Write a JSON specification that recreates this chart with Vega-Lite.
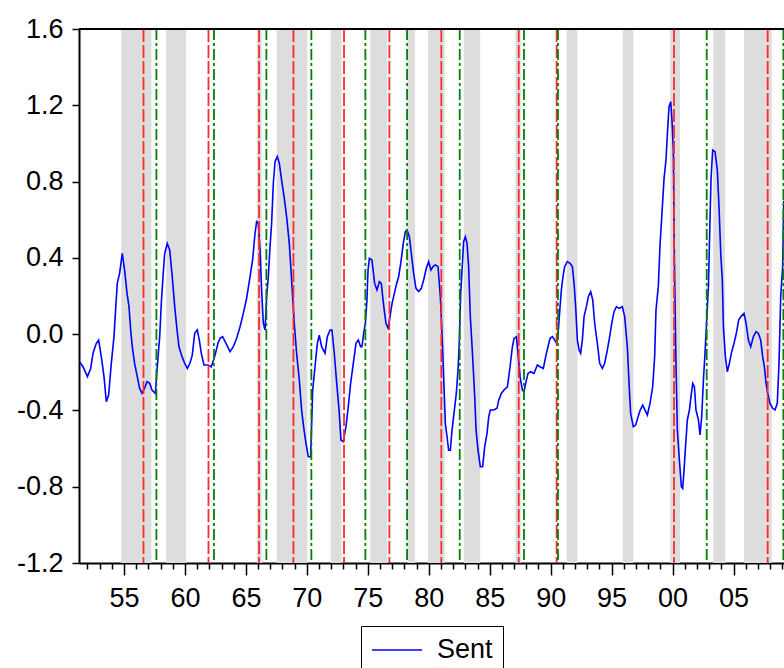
{
  "$schema": "https://vega.github.io/schema/vega-lite/v6.json",
  "autosize": {"type": "none"},
  "width": 705,
  "height": 534,
  "padding": {"left": 79, "top": 29, "right": 0, "bottom": 105},
  "background": "white",
  "config": {
    "view": {"stroke": null},
    "axis": {
      "title": null, "grid": false, "tickColor": "black", "tickWidth": 1.5,
      "domainColor": "black", "domainWidth": 2,
      "labelFont": "Liberation Sans", "labelFontSize": 27, "labelColor": "black",
      "labelOverlap": false, "labelFlush": false, "labelBound": false
    }
  },
  "datasets": {
    "bands": [
      {"t": 1954.77, "e": 1957.25}, {"t": 1958.46, "e": 1960.1}, {"t": 1965.9, "e": 1966.3},
      {"t": 1967.52, "e": 1970.03}, {"t": 1971.96, "e": 1972.84}, {"t": 1975.19, "e": 1976.6},
      {"t": 1978.25, "e": 1978.88}, {"t": 1979.93, "e": 1981.3}, {"t": 1982.87, "e": 1984.22},
      {"t": 1987.12, "e": 1987.55}, {"t": 1991.31, "e": 1992.19}, {"t": 1995.91, "e": 1996.78},
      {"t": 1999.8, "e": 2000.61}, {"t": 2003.33, "e": 2004.31}, {"t": 2005.85, "e": 2008.13}
    ],
    "peaks": [
      {"t": 1956.6}, {"t": 1961.93}, {"t": 1966.08}, {"t": 1968.9}, {"t": 1973.05}, {"t": 1976.77},
      {"t": 1981.03}, {"t": 1987.38}, {"t": 1990.49}, {"t": 2000.12}, {"t": 2007.8}
    ],
    "troughs": [
      {"t": 1957.66}, {"t": 1962.38}, {"t": 1966.68}, {"t": 1970.37}, {"t": 1974.8}, {"t": 1978.22},
      {"t": 1982.54}, {"t": 1987.81}, {"t": 1990.6}, {"t": 2002.8}, {"t": 2009.09}
    ],
    "sent": [
      {"t":1951.36,"v":-0.145},{"t":1951.64,"v":-0.171},{"t":1952.0,"v":-0.223},{"t":1952.27,"v":-0.18},
      {"t":1952.46,"v":-0.1},{"t":1952.73,"v":-0.048},{"t":1952.92,"v":-0.031},{"t":1953.14,"v":-0.118},
      {"t":1953.36,"v":-0.223},{"t":1953.55,"v":-0.354},{"t":1953.74,"v":-0.319},{"t":1953.96,"v":-0.153},
      {"t":1954.18,"v":-0.013},{"t":1954.32,"v":0.135},{"t":1954.45,"v":0.266},{"t":1954.64,"v":0.319},
      {"t":1954.86,"v":0.424},{"t":1955.05,"v":0.336},{"t":1955.25,"v":0.214},{"t":1955.41,"v":0.144},
      {"t":1955.55,"v":0.022},{"t":1955.68,"v":-0.066},{"t":1955.87,"v":-0.153},{"t":1956.09,"v":-0.223},
      {"t":1956.28,"v":-0.284},{"t":1956.48,"v":-0.311},{"t":1956.69,"v":-0.284},{"t":1956.89,"v":-0.249},
      {"t":1957.11,"v":-0.258},{"t":1957.3,"v":-0.293},{"t":1957.57,"v":-0.311},{"t":1957.73,"v":-0.171},
      {"t":1957.93,"v":-0.013},{"t":1958.06,"v":0.161},{"t":1958.2,"v":0.301},{"t":1958.34,"v":0.424},
      {"t":1958.55,"v":0.476},{"t":1958.75,"v":0.441},{"t":1958.96,"v":0.301},{"t":1959.16,"v":0.144},
      {"t":1959.35,"v":0.022},{"t":1959.51,"v":-0.066},{"t":1959.76,"v":-0.118},{"t":1959.98,"v":-0.153},
      {"t":1960.2,"v":-0.18},{"t":1960.41,"v":-0.153},{"t":1960.6,"v":-0.11},{"t":1960.8,"v":0.004},
      {"t":1961.01,"v":0.022},{"t":1961.18,"v":-0.031},{"t":1961.34,"v":-0.1},{"t":1961.56,"v":-0.162},
      {"t":1961.89,"v":-0.162},{"t":1962.16,"v":-0.171},{"t":1962.44,"v":-0.118},{"t":1962.71,"v":-0.048},
      {"t":1962.88,"v":-0.022},{"t":1963.09,"v":-0.013},{"t":1963.37,"v":-0.048},{"t":1963.7,"v":-0.092},
      {"t":1963.97,"v":-0.066},{"t":1964.24,"v":-0.022},{"t":1964.52,"v":0.039},{"t":1964.79,"v":0.109},
      {"t":1965.06,"v":0.188},{"t":1965.34,"v":0.301},{"t":1965.55,"v":0.389},{"t":1965.75,"v":0.529},
      {"t":1965.88,"v":0.59},{"t":1966.02,"v":0.581},{"t":1966.16,"v":0.441},{"t":1966.29,"v":0.232},
      {"t":1966.43,"v":0.057},{"t":1966.57,"v":0.022},{"t":1966.7,"v":0.196},{"t":1966.84,"v":0.301},
      {"t":1966.98,"v":0.459},{"t":1967.11,"v":0.581},{"t":1967.25,"v":0.791},{"t":1967.39,"v":0.904},
      {"t":1967.58,"v":0.931},{"t":1967.74,"v":0.896},{"t":1967.93,"v":0.808},{"t":1968.13,"v":0.721},
      {"t":1968.34,"v":0.616},{"t":1968.56,"v":0.476},{"t":1968.75,"v":0.284},{"t":1968.95,"v":0.074},
      {"t":1969.16,"v":-0.1},{"t":1969.38,"v":-0.24},{"t":1969.57,"v":-0.398},{"t":1969.77,"v":-0.503},
      {"t":1969.93,"v":-0.573},{"t":1970.12,"v":-0.643},{"t":1970.31,"v":-0.643},{"t":1970.48,"v":-0.293},
      {"t":1970.67,"v":-0.171},{"t":1970.86,"v":-0.048},{"t":1971.02,"v":-0.005},{"t":1971.21,"v":-0.066},
      {"t":1971.49,"v":-0.1},{"t":1971.68,"v":-0.013},{"t":1971.9,"v":0.022},{"t":1972.06,"v":0.022},
      {"t":1972.25,"v":-0.1},{"t":1972.45,"v":-0.258},{"t":1972.64,"v":-0.398},{"t":1972.8,"v":-0.555},
      {"t":1972.99,"v":-0.564},{"t":1973.21,"v":-0.485},{"t":1973.4,"v":-0.38},{"t":1973.59,"v":-0.258},
      {"t":1973.81,"v":-0.153},{"t":1974.03,"v":-0.048},{"t":1974.22,"v":-0.031},{"t":1974.41,"v":-0.066},
      {"t":1974.52,"v":-0.066},{"t":1974.66,"v":0.004},{"t":1974.8,"v":0.057},{"t":1974.93,"v":0.179},
      {"t":1975.02,"v":0.336},{"t":1975.13,"v":0.397},{"t":1975.34,"v":0.389},{"t":1975.56,"v":0.266},
      {"t":1975.75,"v":0.232},{"t":1975.95,"v":0.275},{"t":1976.11,"v":0.266},{"t":1976.22,"v":0.196},
      {"t":1976.38,"v":0.109},{"t":1976.49,"v":0.057},{"t":1976.66,"v":0.031},{"t":1976.82,"v":0.092},
      {"t":1976.99,"v":0.161},{"t":1977.18,"v":0.214},{"t":1977.37,"v":0.266},{"t":1977.53,"v":0.301},
      {"t":1977.72,"v":0.38},{"t":1977.91,"v":0.476},{"t":1978.08,"v":0.537},{"t":1978.22,"v":0.546},
      {"t":1978.41,"v":0.511},{"t":1978.57,"v":0.424},{"t":1978.76,"v":0.319},{"t":1978.95,"v":0.24},
      {"t":1979.17,"v":0.223},{"t":1979.39,"v":0.24},{"t":1979.58,"v":0.284},{"t":1979.8,"v":0.345},
      {"t":1979.99,"v":0.38},{"t":1980.18,"v":0.336},{"t":1980.35,"v":0.354},{"t":1980.54,"v":0.363},
      {"t":1980.76,"v":0.354},{"t":1980.95,"v":0.196},{"t":1981.09,"v":0.004},{"t":1981.22,"v":-0.223},
      {"t":1981.36,"v":-0.468},{"t":1981.5,"v":-0.538},{"t":1981.63,"v":-0.608},{"t":1981.77,"v":-0.608},
      {"t":1981.91,"v":-0.503},{"t":1982.1,"v":-0.398},{"t":1982.26,"v":-0.311},{"t":1982.4,"v":-0.188},
      {"t":1982.51,"v":-0.031},{"t":1982.62,"v":0.214},{"t":1982.73,"v":0.336},{"t":1982.86,"v":0.485},
      {"t":1983.0,"v":0.511},{"t":1983.14,"v":0.476},{"t":1983.27,"v":0.354},{"t":1983.41,"v":0.092},
      {"t":1983.6,"v":-0.118},{"t":1983.77,"v":-0.328},{"t":1983.88,"v":-0.503},{"t":1984.04,"v":-0.608},
      {"t":1984.23,"v":-0.695},{"t":1984.42,"v":-0.695},{"t":1984.59,"v":-0.59},{"t":1984.78,"v":-0.52},
      {"t":1984.92,"v":-0.433},{"t":1985.05,"v":-0.398},{"t":1985.33,"v":-0.398},{"t":1985.6,"v":-0.389},
      {"t":1985.74,"v":-0.346},{"t":1985.95,"v":-0.311},{"t":1986.17,"v":-0.293},{"t":1986.45,"v":-0.276},
      {"t":1986.67,"v":-0.171},{"t":1986.86,"v":-0.066},{"t":1987.0,"v":-0.022},{"t":1987.19,"v":-0.013},
      {"t":1987.32,"v":-0.1},{"t":1987.49,"v":-0.223},{"t":1987.68,"v":-0.293},{"t":1987.81,"v":-0.302},
      {"t":1987.95,"v":-0.258},{"t":1988.14,"v":-0.206},{"t":1988.36,"v":-0.197},{"t":1988.63,"v":-0.206},
      {"t":1988.91,"v":-0.162},{"t":1989.13,"v":-0.171},{"t":1989.4,"v":-0.18},{"t":1989.59,"v":-0.118},
      {"t":1989.78,"v":-0.066},{"t":1989.95,"v":-0.022},{"t":1990.14,"v":-0.013},{"t":1990.33,"v":-0.031},
      {"t":1990.49,"v":-0.048},{"t":1990.63,"v":0.022},{"t":1990.77,"v":0.144},{"t":1990.88,"v":0.232},
      {"t":1991.01,"v":0.301},{"t":1991.15,"v":0.354},{"t":1991.37,"v":0.38},{"t":1991.59,"v":0.371},
      {"t":1991.78,"v":0.354},{"t":1991.92,"v":0.266},{"t":1992.05,"v":0.144},{"t":1992.19,"v":-0.031},
      {"t":1992.33,"v":-0.083},{"t":1992.46,"v":-0.1},{"t":1992.6,"v":-0.031},{"t":1992.74,"v":0.092},
      {"t":1992.93,"v":0.144},{"t":1993.09,"v":0.196},{"t":1993.28,"v":0.223},{"t":1993.45,"v":0.179},
      {"t":1993.61,"v":0.057},{"t":1993.83,"v":-0.048},{"t":1994.02,"v":-0.153},{"t":1994.24,"v":-0.18},
      {"t":1994.43,"v":-0.153},{"t":1994.65,"v":-0.083},{"t":1994.84,"v":-0.013},{"t":1995.01,"v":0.057},
      {"t":1995.2,"v":0.118},{"t":1995.39,"v":0.144},{"t":1995.61,"v":0.135},{"t":1995.88,"v":0.144},
      {"t":1996.07,"v":0.092},{"t":1996.29,"v":-0.066},{"t":1996.43,"v":-0.258},{"t":1996.56,"v":-0.415},
      {"t":1996.78,"v":-0.485},{"t":1996.97,"v":-0.477},{"t":1997.17,"v":-0.433},{"t":1997.33,"v":-0.4},
      {"t":1997.55,"v":-0.372},{"t":1997.74,"v":-0.398},{"t":1997.93,"v":-0.424},{"t":1998.15,"v":-0.363},
      {"t":1998.37,"v":-0.276},{"t":1998.53,"v":-0.118},{"t":1998.64,"v":0.127},{"t":1998.83,"v":0.249},
      {"t":1998.97,"v":0.467},{"t":1999.13,"v":0.633},{"t":1999.3,"v":0.817},{"t":1999.46,"v":0.913},
      {"t":1999.6,"v":1.079},{"t":1999.71,"v":1.193},{"t":1999.85,"v":1.219},{"t":1999.95,"v":1.123},
      {"t":2000.06,"v":0.966},{"t":2000.14,"v":0.441},{"t":2000.26,"v":-0.083},{"t":2000.39,"v":-0.503},
      {"t":2000.56,"v":-0.66},{"t":2000.72,"v":-0.8},{"t":2000.83,"v":-0.809},{"t":2000.94,"v":-0.713},
      {"t":2001.08,"v":-0.573},{"t":2001.21,"v":-0.45},{"t":2001.38,"v":-0.398},{"t":2001.51,"v":-0.328},
      {"t":2001.65,"v":-0.258},{"t":2001.79,"v":-0.276},{"t":2001.92,"v":-0.398},{"t":2002.12,"v":-0.45},
      {"t":2002.25,"v":-0.529},{"t":2002.39,"v":-0.433},{"t":2002.53,"v":-0.24},{"t":2002.66,"v":-0.1},
      {"t":2002.8,"v":0.074},{"t":2002.94,"v":0.249},{"t":2003.05,"v":0.546},{"t":2003.15,"v":0.808},
      {"t":2003.29,"v":0.966},{"t":2003.48,"v":0.957},{"t":2003.67,"v":0.861},{"t":2003.81,"v":0.668},
      {"t":2003.95,"v":0.424},{"t":2004.08,"v":0.284},{"t":2004.17,"v":0.039},{"t":2004.33,"v":-0.118},
      {"t":2004.49,"v":-0.197},{"t":2004.66,"v":-0.153},{"t":2004.85,"v":-0.092},{"t":2005.04,"v":-0.048},
      {"t":2005.26,"v":0.013},{"t":2005.42,"v":0.074},{"t":2005.61,"v":0.092},{"t":2005.86,"v":0.109},
      {"t":2006.03,"v":0.057},{"t":2006.22,"v":-0.031},{"t":2006.41,"v":-0.066},{"t":2006.63,"v":-0.013},
      {"t":2006.85,"v":0.013},{"t":2007.04,"v":0.004},{"t":2007.23,"v":-0.031},{"t":2007.39,"v":-0.118},
      {"t":2007.53,"v":-0.171},{"t":2007.67,"v":-0.258},{"t":2007.8,"v":-0.311},{"t":2007.99,"v":-0.363},
      {"t":2008.21,"v":-0.389},{"t":2008.4,"v":-0.398},{"t":2008.59,"v":-0.363},{"t":2008.73,"v":-0.153},
      {"t":2008.87,"v":0.196},{"t":2009.03,"v":0.354},{"t":2009.12,"v":0.7}
    ]
  },
  "layer": [
    {
      "data": {"name": "bands"},
      "mark": {"type": "rect", "color": "#dddddd"},
      "encoding": {
        "x": {
          "field": "t", "type": "quantitative",
          "scale": {"domain": [1951.31, 2009.14], "nice": false, "zero": false},
          "axis": {
            "values": [1952,1953,1954,1955,1956,1957,1958,1959,1960,1961,1962,1963,1964,1965,1966,1967,1968,1969,1970,1971,1972,1973,1974,1975,1976,1977,1978,1979,1980,1981,1982,1983,1984,1985,1986,1987,1988,1989,1990,1991,1992,1993,1994,1995,1996,1997,1998,1999,2000,2001,2002,2003,2004,2005,2006,2007,2008,2009],
            "labelExpr": "datum.value % 5 === 0 ? ((datum.value % 100) < 10 ? '0' : '') + (datum.value % 100) : ''",
            "tickSize": {"condition": {"test": "datum.value % 5 === 0", "value": 12}, "value": 6},
            "labelPadding": 10
          }
        },
        "x2": {"field": "e"}
      }
    },
    {
      "data": {"name": "sent"},
      "mark": {"type": "line", "strokeWidth": 1.6, "clip": true},
      "encoding": {
        "x": {
          "field": "t", "type": "quantitative",
          "scale": {"domain": [1951.31, 2009.14], "nice": false, "zero": false},
          "axis": {
            "values": [1952,1953,1954,1955,1956,1957,1958,1959,1960,1961,1962,1963,1964,1965,1966,1967,1968,1969,1970,1971,1972,1973,1974,1975,1976,1977,1978,1979,1980,1981,1982,1983,1984,1985,1986,1987,1988,1989,1990,1991,1992,1993,1994,1995,1996,1997,1998,1999,2000,2001,2002,2003,2004,2005,2006,2007,2008,2009],
            "labelExpr": "datum.value % 5 === 0 ? ((datum.value % 100) < 10 ? '0' : '') + (datum.value % 100) : ''",
            "tickSize": {"condition": {"test": "datum.value % 5 === 0", "value": 12}, "value": 6},
            "labelPadding": 10
          }
        },
        "y": {
          "field": "v", "type": "quantitative",
          "scale": {"domain": [-1.2, 1.6], "nice": false, "zero": false},
          "axis": {
            "values": [-1.2, -0.8, -0.4, 0, 0.4, 0.8, 1.2, 1.6],
            "labelExpr": "(datum.value < -0.001 ? '-' : '') + format(abs(datum.value), '.1f')",
            "tickSize": 7, "labelPadding": 9
          }
        },
        "color": {
          "datum": "Sent",
          "type": "nominal",
          "scale": {"domain": ["Sent"], "range": ["#0000ff"]},
          "legend": {
            "title": null, "orient": "none", "legendX": 282, "legendY": 597,
            "strokeColor": "black", "padding": 10, "clipHeight": 28,
            "symbolType": "stroke", "symbolSize": 2500, "symbolStrokeWidth": 1.6,
            "labelFont": "Liberation Sans", "labelFontSize": 27, "labelColor": "black",
            "labelOffset": 14
          }
        }
      }
    },
    {
      "data": {"name": "peaks"},
      "mark": {"type": "rule", "color": "#ff2a2a", "strokeWidth": 1.8, "strokeDash": [13, 3]},
      "encoding": {
        "x": {
          "field": "t", "type": "quantitative",
          "scale": {"domain": [1951.31, 2009.14], "nice": false, "zero": false},
          "axis": {
            "values": [1952,1953,1954,1955,1956,1957,1958,1959,1960,1961,1962,1963,1964,1965,1966,1967,1968,1969,1970,1971,1972,1973,1974,1975,1976,1977,1978,1979,1980,1981,1982,1983,1984,1985,1986,1987,1988,1989,1990,1991,1992,1993,1994,1995,1996,1997,1998,1999,2000,2001,2002,2003,2004,2005,2006,2007,2008,2009],
            "labelExpr": "datum.value % 5 === 0 ? ((datum.value % 100) < 10 ? '0' : '') + (datum.value % 100) : ''",
            "tickSize": {"condition": {"test": "datum.value % 5 === 0", "value": 12}, "value": 6},
            "labelPadding": 10
          }
        }
      }
    },
    {
      "data": {"name": "troughs"},
      "mark": {"type": "rule", "color": "#008000", "strokeWidth": 1.8, "strokeDash": [11, 3, 3, 3]},
      "encoding": {
        "x": {
          "field": "t", "type": "quantitative",
          "scale": {"domain": [1951.31, 2009.14], "nice": false, "zero": false},
          "axis": {
            "values": [1952,1953,1954,1955,1956,1957,1958,1959,1960,1961,1962,1963,1964,1965,1966,1967,1968,1969,1970,1971,1972,1973,1974,1975,1976,1977,1978,1979,1980,1981,1982,1983,1984,1985,1986,1987,1988,1989,1990,1991,1992,1993,1994,1995,1996,1997,1998,1999,2000,2001,2002,2003,2004,2005,2006,2007,2008,2009],
            "labelExpr": "datum.value % 5 === 0 ? ((datum.value % 100) < 10 ? '0' : '') + (datum.value % 100) : ''",
            "tickSize": {"condition": {"test": "datum.value % 5 === 0", "value": 12}, "value": 6},
            "labelPadding": 10
          }
        }
      }
    },
    {
      "data": {"values": [{"b": 1.6}]},
      "mark": {"type": "rule", "color": "black", "strokeWidth": 2},
      "encoding": {
        "y": {
          "field": "b", "type": "quantitative",
          "scale": {"domain": [-1.2, 1.6], "nice": false, "zero": false},
          "axis": {
            "values": [-1.2, -0.8, -0.4, 0, 0.4, 0.8, 1.2, 1.6],
            "labelExpr": "(datum.value < -0.001 ? '-' : '') + format(abs(datum.value), '.1f')",
            "tickSize": 7, "labelPadding": 9
          }
        }
      }
    }
  ]
}
